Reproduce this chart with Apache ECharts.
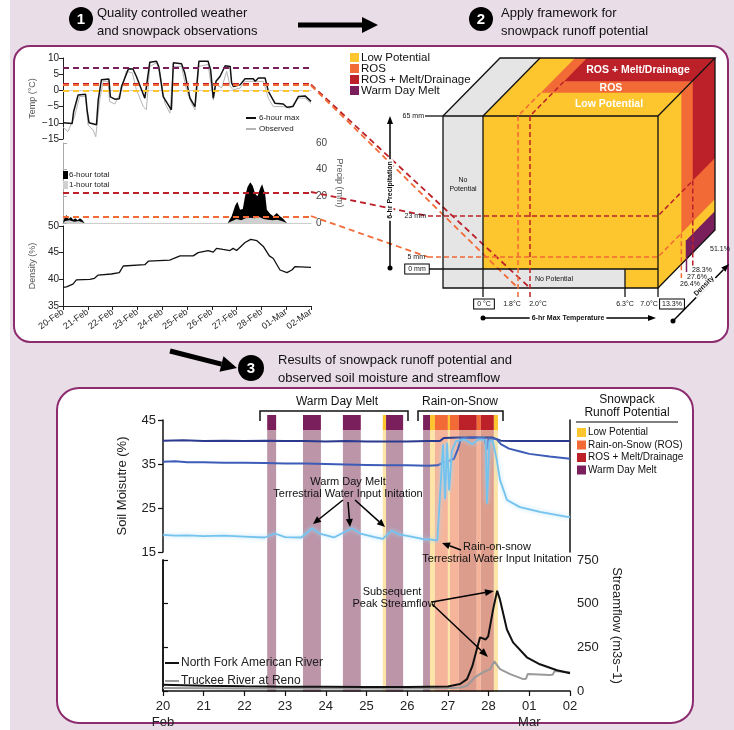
<!DOCTYPE html>
<html><head><meta charset="utf-8">
<script src="https://cdn.jsdelivr.net/npm/echarts/dist/echarts.min.js"></script>
<style>html,body{margin:0;padding:0;background:#fff}#c{width:734px;height:730px}</style>
</head><body><div id="c"></div><script>
// ---------- DATA ----------
const topDayLabels = ['20-Feb','21-Feb','22-Feb','23-Feb','24-Feb','25-Feb','26-Feb','27-Feb','28-Feb','01-Mar','02-Mar'];
const bottomDayLabels = ['20','21','22','23','24','25','26','27','28','01','02'];
const bottomMonthLabels = ['Feb','','','','','','','','','Mar',''];

const temp6hMax = [[0,-10],[0.37,-10.2],[0.43,-6.5],[0.61,-1.4],[0.91,-1.2],[0.97,-6],[1.05,-10],[1.35,-10.6],[1.42,-3],[1.55,3.3],[1.85,3.5],[1.91,-2],[2.09,-2.7],[2.27,-2.6],[2.36,1.2],[2.64,6.7],[2.82,6.6],[2.96,4.3],[3.3,-2.4],[3.36,-2.9],[3.5,8.7],[3.77,9],[3.86,7.4],[4.04,-1.9],[4.37,-6],[4.45,8.5],[4.78,8.2],[4.91,5.4],[5.12,-2.4],[5.32,-5],[5.48,9],[5.85,9],[5.95,6.4],[6.06,-2.4],[6.17,2.8],[6.33,4.3],[6.54,7.6],[6.74,7.4],[6.8,2.3],[6.87,1.2],[7.14,1.7],[7.34,3.6],[7.67,3.6],[7.75,2.8],[7.88,3.8],[8.15,3.8],[8.28,-0.3],[8.55,-4],[8.88,-4.2],[9.03,-5.2],[9.27,-5],[9.49,-1.9],[9.76,-1.7],[10,-3.4]];
const tempObserved = [[0,-11.4],[0.2,-12.7],[0.47,-8],[0.67,-1.9],[0.91,-1.9],[1.01,-10.7],[1.21,-12.2],[1.32,-14.3],[1.48,-3],[1.62,2.8],[1.82,2.8],[1.88,-3.4],[2.09,-4.2],[2.36,0],[2.55,5.9],[2.8,5.4],[2.96,0.2],[3.24,-5],[3.36,-6],[3.5,7.4],[3.77,8.5],[3.91,5.4],[4.11,-4],[4.31,-7],[4.45,7.4],[4.78,7.4],[4.98,0.2],[5.18,-4],[5.32,-6],[5.48,7.4],[5.85,8],[6.06,-3],[6.17,1.8],[6.4,0.8],[6.6,5.9],[6.74,1.2],[6.87,0.2],[7.14,0.7],[7.34,2.8],[7.67,2.8],[8.08,2.8],[8.28,-2.4],[8.48,-5],[8.89,-5],[9.15,-5.5],[9.49,-2.4],[9.76,-2.4],[10,-4]];
const tempThresholds = [7.0, 2.0, 1.8, 0];

const precip6h = [[0,0],[0.06,4],[0.14,6],[0.23,3],[0.32,4.5],[0.41,2.5],[0.5,3.5],[0.59,2],[0.68,3.5],[0.77,2.5],[0.87,0],[6.64,0],[6.8,5],[6.94,13],[7.03,16],[7.14,10],[7.25,10.5],[7.34,20],[7.44,27],[7.55,30.5],[7.65,28],[7.75,22],[7.84,20],[7.95,26],[8.03,29],[8.15,22],[8.22,10],[8.35,7],[8.48,5],[8.62,7.5],[8.75,5],[8.89,3],[9.03,0],[10,0]];
const precip1h = [[0,0],[0.09,1.5],[0.27,2],[0.45,1],[0.64,1.5],[0.86,0],[6.64,0],[6.82,1.5],[7.0,3],[7.18,2],[7.36,3.5],[7.55,4],[7.73,3.5],[7.91,4.5],[8.09,3],[8.27,2.5],[8.45,2],[8.64,2.5],[8.82,1.5],[9.03,0],[10,0]];
const precipThresholds = [23, 5];

const density = [[0,38.5],[0.14,38.6],[0.4,39.1],[0.54,39.9],[1.08,40],[1.27,40.2],[1.42,40.8],[1.95,41],[2.27,41.25],[2.43,42.5],[3.3,42.75],[3.44,43.4],[4.31,43.6],[4.45,43.9],[4.72,44.4],[5.25,44.4],[5.45,45],[5.85,45.4],[6.06,45.1],[6.19,45.8],[6.45,45.6],[6.73,45.4],[6.86,45.8],[7.0,45.4],[7.14,46],[7.34,46.9],[7.57,47.5],[7.82,47.25],[8.09,46.1],[8.32,44.4],[8.48,43.9],[8.75,41.75],[9.03,41.25],[9.23,41.75],[9.36,42.4],[10,42.25]];

const soilDeep = [[0,40.3],[0.5,40.4],[1,40.2],[1.5,40.3],[2,40.2],[2.5,40.3],[3,40.2],[3.5,40.2],[4,40.1],[4.5,40.2],[5,40.1],[5.5,40.1],[6,40.1],[6.5,40.2],[6.8,40.2],[6.9,40.9],[7.3,41.0],[7.7,41.0],[8.1,41.0],[8.3,40.3],[8.6,40.2],[9,40.2],[9.5,40.2],[10,40.2]];
const soilMid = [[0,35.5],[0.3,35.6],[0.6,35.4],[1,35.4],[1.5,35.3],[2,35.3],[2.5,35.2],[3,35.1],[3.5,35.1],[4,35.0],[4.5,34.9],[5,34.8],[5.5,34.7],[6,34.7],[6.5,34.6],[6.75,34.7],[6.85,35.2],[7.0,35.6],[7.15,36.2],[7.25,38.5],[7.32,40.8],[7.6,41.0],[7.9,40.9],[7.96,38.3],[8.0,40.9],[8.2,40.6],[8.3,39.5],[8.5,38.5],[8.8,37.8],[9.0,37.3],[9.5,36.7],[10,36.2]];
const soilShallow = [[0,18.9],[0.3,18.7],[0.6,18.8],[1,18.6],[1.5,18.7],[2,18.5],[2.5,18.3],[2.75,19.2],[3.0,18.4],[3.4,18.3],[3.66,20.4],[3.85,19.2],[4.2,18.3],[4.64,20.4],[4.85,19.2],[5.2,18.4],[5.4,18.0],[5.62,19.9],[5.8,19.0],[6.1,18.5],[6.4,17.9],[6.6,17.8],[6.74,17.6],[6.82,30],[6.88,39.5],[6.93,27],[6.98,39.8],[7.03,29],[7.1,38],[7.2,40.2],[7.4,40.6],[7.6,39.5],[7.75,40.6],[7.93,40.5],[7.96,26],[8.02,40.2],[8.1,40.3],[8.2,36],[8.28,31.4],[8.45,26.8],[8.77,25.2],[9.26,24.1],[9.93,23.0],[10,23.0]];

const flowNorthFork = [[0,36],[1,30],[2,27],[3,25],[4,24],[5,23],[6,23],[7,26],[7.3,40],[7.47,68],[7.6,142],[7.71,239],[7.79,307],[7.83,313],[7.93,295],[7.99,313],[8.11,466],[8.21,574],[8.28,523],[8.45,352],[8.6,278],[8.94,193],[9.26,153],[9.68,119],[10,102]];
const flowTruckee = [[0,17],[1,16],[2,15],[3,15],[4,15],[5,15],[6,15],[7,16],[7.3,20],[7.47,30],[7.67,80],[7.87,108],[8.04,125],[8.14,170],[8.28,125],[8.53,97],[8.85,68],[8.92,70],[8.96,97],[9.5,91],[9.58,95],[9.62,114],[10,108]];

// runoff potential bands (days after 20 Feb); class 0 Low, 1 ROS, 2 ROS+Melt, 3 Warm Day Melt
const bandStart = [2.56,3.44,4.42,5.40,5.48,6.39,6.56,6.68,7.00,7.05,7.27,7.71,7.81,8.13];
const bandEnd   = [2.78,3.88,4.86,5.48,5.90,6.56,6.68,7.00,7.05,7.27,7.71,7.81,8.13,8.23];
const bandClass = [3,3,3,0,3,3,0,1,0,1,2,1,2,0];
const potentialNames = ['Low Potential','Rain-on-Snow (ROS)','ROS + Melt/Drainage','Warm Day Melt'];

// ---------- STYLE ----------
const FF = '"Liberation Sans", Arial, sans-serif';
const C_LP='#fdc52e', C_ROS='#f26a36', C_RMD='#bc2029', C_WDM='#7a1f5c';
const capColors = [C_LP, C_ROS, C_RMD, C_WDM];
const shadeColors = ['#fde5a8','#f6b59b','#dc9d8d','#bc95a8'];
const threshColors = [C_WDM, C_RMD, C_ROS, C_LP];
const LAV='#e9dde7', BORDER='#8c2c6f';
const fnt=(s,w)=>(w||'normal')+' '+s+'px '+FF;

const G=[];
function T(x,y,text,size,o){G.push(Object.assign({type:'text',x:x,y:y,z:30,style:Object.assign({text:text,font:fnt(size,o&&o.bold?'bold':'normal'),fill:'#111',align:'left',verticalAlign:'middle'},o&&o.style||{})},o&&o.el||{}));}
function L(pts,color,w,dash,z){G.push({type:'polyline',z:z||25,shape:{points:pts},style:{stroke:color,lineWidth:w,lineDash:dash||null,fill:null}});}
function PG(pts,fill,z){G.push({type:'polygon',z:z||20,shape:{points:pts},style:{fill:fill}});}
function R(x,y,w,h,fill,z){G.push({type:'rect',z:z||20,shape:{x:x,y:y,width:w,height:h},style:{fill:fill}});}
function ARROW(x1,y1,x2,y2,w,hl,hw,z){const dx=x2-x1,dy=y2-y1,len=Math.hypot(dx,dy),ux=dx/len,uy=dy/len;const bx=x2-ux*hl,by=y2-uy*hl;
  L([[x1,y1],[bx,by]],'#000',w,null,z||30);PG([[x2,y2],[bx-uy*hw,by+ux*hw],[bx+uy*hw,by-ux*hw]],'#000',z||30);}
function CIRC(cx,cy,r,fill,z){G.push({type:'circle',z:z||30,shape:{cx:cx,cy:cy,r:r},style:{fill:fill}});}

// background and panels
G.push({type:'rect',z:-20,shape:{x:10,y:0,width:724,height:730},style:{fill:LAV}});
G.push({type:'rect',z:-19,shape:{x:14,y:46,width:714,height:296,r:16},style:{fill:'#fff',stroke:BORDER,lineWidth:2}});
G.push({type:'rect',z:-19,shape:{x:57,y:388,width:636,height:335,r:22},style:{fill:'#fff',stroke:BORDER,lineWidth:2}});

// headers
CIRC(81,19,12,'#000'); T(81,20,'1',15,{bold:1,style:{fill:'#fff',align:'center'}});
T(97,13,'Quality controlled weather',13); T(97,31,'and snowpack observations',13);
ARROW(298,25,378,25,5,16,8);
CIRC(481,19,12,'#000'); T(481,20,'2',15,{bold:1,style:{fill:'#fff',align:'center'}});
T(501,13,'Apply framework for',13); T(501,31,'snowpack runoff potential',13);
ARROW(170,351,237,368,5,16,8);
CIRC(251,368,13,'#000'); T(251,369,'3',15,{bold:1,style:{fill:'#fff',align:'center'}});
T(278,360,'Results of snowpack runoff potential and',13); T(278,378,'observed soil moisture and streamflow',13);

// cube legend
[C_LP,C_ROS,C_RMD,C_WDM].forEach((c,i)=>{R(350,53+i*11,9,9,c,30);});
['Low Potential','ROS','ROS + Melt/Drainage','Warm Day Melt'].forEach((t,i)=>T(361,57.5+i*11,t,11.5));

// ---------- CUBE (schematic) ----------
const FX0=443,FX1=483,FX2=625,FX3=658,TY=116,Y23=216,Y5=257,Y0=269,BY=288,DX=57,DY=58,X18=518,X20=530;
const P=(f,y)=>[FX3+DX*f,y-DY*f];
const Q=(f,x)=>[x+DX*f,TY-DY*f];
PG([Q(0,FX0),Q(0,FX1),Q(1,FX1),Q(1,FX0)],'#e5e5e5');
PG([Q(0,FX1),Q(0,FX3),Q(1,FX3),Q(1,FX1)],C_LP);
PG([Q(.4,X18),Q(.4,FX3),Q(1,FX3),Q(1,X18)],C_ROS);
PG([Q(.6,X20),Q(.6,FX3),Q(1,FX3),Q(1,X20)],C_RMD);
PG([P(0,TY),P(1,TY),P(1,BY),P(0,BY)],C_LP);
PG([P(.41,TY),P(1,TY),P(1,Y5),P(.41,Y5)],C_ROS);
PG([P(.61,TY),P(1,TY),P(1,Y23),P(.61,Y23)],C_RMD);
PG([P(.5,Y0),P(1,Y0),P(1,BY),P(.5,BY)],C_WDM);
R(FX0,TY,FX1-FX0,BY-TY,'#e5e5e5'); R(FX1,TY,FX3-FX1,Y0-TY,C_LP);
R(FX1,Y0,FX2-FX1,BY-Y0,'#e5e5e5'); R(FX2,Y0,FX3-FX2,BY-Y0,C_LP);
// outlines
L([[FX0,TY],[FX3,TY],[FX3,BY],[FX0,BY],[FX0,TY]],'#111',1.3,null,24);
L([[FX1,TY],[FX1,BY]],'#111',1.3,null,24);
L([[428,Y0],[FX3,Y0]],'#111',1.3,null,24);
L([[FX2,Y0],[FX2,297]],'#111',1.3,null,24);
L([[FX1,BY],[FX1,297]],'#111',1.3,null,24);
L([[FX3,BY],[FX3,297]],'#111',1.3,null,24);
L([Q(0,FX0),Q(1,FX0),Q(1,FX3),Q(0,FX3)],'#111',1.3,null,24);
L([Q(0,FX1),Q(1,FX1)],'#111',1.3,null,24);
L([P(1,TY),P(1,BY),P(0,BY)],'#111',1.3,null,24);
L([[425,TY],[FX0,TY]],'#111',1.3,null,24);
// dashed thresholds in cube
L([[428,Y23],[FX3,Y23],P(.61,Y23)],C_RMD,1.5,[5,3]);
L([[428,Y5],[FX3,Y5],P(.41,Y5)],C_ROS,1.5,[5,3]);
L([[X18,297],[X18,TY],Q(.4,X18)],C_ROS,1.5,[5,3]);
L([[X20,297],[X20,TY],Q(.6,X20)],C_RMD,1.5,[5,3]);
L([P(.41,Y5),[P(.41,0)[0],278]],C_ROS,1.5,[5,3]);
L([P(.5,Y0),[P(.5,0)[0],272]],C_WDM,1.5);
L([P(.61,Y23),[P(.61,0)[0],266]],C_RMD,1.5,[5,3]);
// connectors from panel 1 charts
L([[311,84.5],[X20,288]],C_RMD,1.8,[6,4],22);
L([[311,85.5],[X18,288]],C_ROS,1.8,[6,4],22);
L([[311,192],[428,Y23]],C_RMD,1.8,[6,4],22);
L([[311,216],[428,Y5]],C_ROS,1.8,[6,4],22);
// cube texts
T(424,TY,'65 mm',7,{style:{align:'right'}});
T(426,Y23,'23 mm',7,{style:{align:'right'}});
T(425,Y5,'5 mm',7,{style:{align:'right'}});
T(417,269,'0 mm',7,{style:{align:'center',backgroundColor:'#fff',borderColor:'#000',borderWidth:1,padding:[1,3]}});
T(484,304,'0 °C',7,{style:{align:'center',backgroundColor:'#fff',borderColor:'#000',borderWidth:1,padding:[1,3]}});
T(512,304,'1.8°C',7,{style:{align:'center'}});
T(538,304,'2.0°C',7,{style:{align:'center'}});
T(625,304,'6.3°C',7,{style:{align:'center'}});
T(649,304,'7.0°C',7,{style:{align:'center'}});
T(672,304,'13.3%',7,{style:{align:'center',backgroundColor:'#fff',borderColor:'#000',borderWidth:1,padding:[1,2]}});
T(720,249,'51.1%',7,{style:{align:'center'}});
T(702,270,'28.3%',7,{style:{align:'center'}});
T(697,277,'27.6%',7,{style:{align:'center'}});
T(690,284,'26.4%',7,{style:{align:'center'}});
T(463,185,'No\nPotential',7,{style:{align:'center',lineHeight:9}});
T(554,279,'No Potential',7,{style:{align:'center'}});
T(638,70,'ROS + Melt/Drainage',10.5,{bold:1,style:{fill:'#fff',align:'center'}});
T(611,88,'ROS',10.5,{bold:1,style:{fill:'#fff',align:'center'}});
T(609,104,'Low Potential',10.5,{bold:1,style:{fill:'#fff',align:'center'}});
// cube axes arrows
CIRC(390,268,2.5,'#000'); ARROW(390,268,390,116,1.5,8,3);
T(390,190,'6-hr Precipitation',7,{bold:1,el:{rotation:Math.PI/2},style:{align:'center',backgroundColor:'#fff',padding:[0,2]}});
CIRC(483,318,2.5,'#000'); ARROW(483,318,656,318,1.5,8,3);
T(568,318,'6-hr Max Temperature',7,{bold:1,style:{align:'center',backgroundColor:'#fff',padding:[0,2]}});
CIRC(673,321,2.5,'#000'); ARROW(673,321,729,264,1.5,8,3);
T(704,286,'Density',7,{bold:1,el:{rotation:Math.PI/4},style:{align:'center',backgroundColor:'#fff',padding:[0,1]}});

// ---------- PANEL 3 annotations ----------
L([[260,421],[260,411],[408,411],[408,421]],'#111',1.5,null,30);
T(337,402,'Warm Day Melt',12,{style:{align:'center'}});
L([[418,421],[418,411],[503,411],[503,421]],'#111',1.5,null,30);
T(460,402,'Rain-on-Snow',12,{style:{align:'center'}});
T(627,400,'Snowpack',12,{style:{align:'center'}});
T(627,413,'Runoff Potential',12,{style:{align:'center'}});
L([[576,422],[678,422]],'#555',1.5,null,30);
capColors.forEach((c,i)=>{R(577,428+i*12.5,9,9,c,30); T(588,432.5+i*12.5,potentialNames[i],10);});
T(348,482,'Warm Day Melt',11,{style:{align:'center'}});
T(348,494,'Terrestrial Water Input Initation',11,{style:{align:'center'}});
ARROW(343,500,313,524,1.5,8,3.5); ARROW(348,502,350,527,1.5,8,3.5); ARROW(355,500,385,527,1.5,8,3.5);
T(497,547,'Rain-on-snow',11,{style:{align:'center'}});
T(497,559,'Terrestrial Water Input Initation',11,{style:{align:'center'}});
ARROW(461,550,442,543,1.5,8,3.5);
T(392,592,'Subsequent',11,{style:{align:'center'}});
T(394,604,'Peak Streamflow',11,{style:{align:'center'}});
ARROW(432,602,494,591,1.5,9,3.5); ARROW(432,604,488,657,1.5,9,3.5);

// ---------- CHART ----------
const chart = echarts.init(document.getElementById('c'),null,{renderer:'canvas'});
const minus = v => String(v).replace('-','\u2212');
const axBase = {splitLine:{show:false}};
const opt = {
  animation:false,
  textStyle:{fontFamily:FF},
  grid:[
    {left:63,top:58,width:248,height:81},
    {left:63,top:143,width:248,height:80},
    {left:63,top:226,width:248,height:80},
    {left:163,top:420,width:407,height:132},
    {left:163,top:560,width:407,height:132},
    {left:163,top:415,width:407,height:277}
  ],
  xAxis:[
    Object.assign({gridIndex:0,type:'value',min:0,max:10,axisLabel:{show:false},axisTick:{show:false},axisLine:{lineStyle:{color:'#ccc'}}},axBase),
    Object.assign({gridIndex:1,type:'value',min:0,max:10,axisLabel:{show:false},axisTick:{show:false},axisLine:{lineStyle:{color:'#ccc'}}},axBase),
    Object.assign({gridIndex:2,type:'value',min:0,max:10,interval:1,axisLine:{lineStyle:{color:'#222'}},axisTick:{length:4,lineStyle:{color:'#222'}},
      axisLabel:{rotate:35,fontSize:9,color:'#222',margin:5,formatter:v=>topDayLabels[v]}},axBase),
    Object.assign({gridIndex:3,type:'value',min:0,max:10,show:false},axBase),
    Object.assign({gridIndex:4,type:'value',min:0,max:10,interval:1,z:6,axisLine:{lineStyle:{color:'#111',width:1.5}},axisTick:{length:5,lineStyle:{color:'#111',width:1.2}},
      axisLabel:{fontSize:13,color:'#222',margin:7,lineHeight:16,formatter:v=>bottomDayLabels[v]+(bottomMonthLabels[v]?'\n'+bottomMonthLabels[v]:'')}},axBase),
    Object.assign({gridIndex:5,type:'value',min:0,max:10,show:false},axBase)
  ],
  yAxis:[
    Object.assign({gridIndex:0,type:'value',min:-15,max:10,interval:5,axisLine:{show:true,lineStyle:{color:'#222'}},axisTick:{show:true,length:4},
      axisLabel:{fontSize:10,color:'#222',margin:4,formatter:minus},name:'Temp (°C)',nameLocation:'middle',nameGap:26,nameTextStyle:{fontSize:9,color:'#555'}},axBase),
    Object.assign({gridIndex:1,type:'value',position:'right',min:0,max:60,interval:20,axisLine:{show:true,lineStyle:{color:'#aaa'}},axisTick:{show:true,length:4},
      axisLabel:{fontSize:10,color:'#444',margin:5},name:'Precip (mm)',nameLocation:'middle',nameRotate:-90,nameGap:24,nameTextStyle:{fontSize:9,color:'#555'}},axBase),
    Object.assign({gridIndex:2,type:'value',min:35,max:50,interval:5,axisLine:{show:true,lineStyle:{color:'#222'}},axisTick:{show:true,length:4},
      axisLabel:{fontSize:10,color:'#222',margin:4},name:'Density (%)',nameLocation:'middle',nameGap:26,nameTextStyle:{fontSize:9,color:'#555'}},axBase),
    Object.assign({gridIndex:3,type:'value',min:15,max:45,interval:10,axisLine:{show:true,lineStyle:{color:'#111',width:1.5}},axisTick:{show:true,length:5,lineStyle:{width:1.2}},
      axisLabel:{fontSize:13,color:'#222',margin:7},name:'Soil Moisutre (%)',nameLocation:'middle',nameGap:34,nameTextStyle:{fontSize:13,color:'#222'}},axBase),
    Object.assign({gridIndex:3,type:'value',position:'right',min:15,max:45,axisLine:{show:true,lineStyle:{color:'#111',width:1.5}},axisTick:{show:false},axisLabel:{show:false}},axBase),
    Object.assign({gridIndex:4,type:'value',position:'right',min:0,max:750,interval:250,axisLine:{show:true,lineStyle:{color:'#111',width:1.5}},axisTick:{show:true,length:5,lineStyle:{width:1.2}},
      axisLabel:{fontSize:13,color:'#222',margin:7},name:'Streamflow (m3s\u22121)',nameLocation:'middle',nameRotate:-90,nameGap:40,nameTextStyle:{fontSize:13,color:'#222'}},axBase),
    Object.assign({gridIndex:4,type:'value',position:'left',min:0,max:750,axisLine:{show:true,lineStyle:{color:'#111',width:1.5}},axisTick:{show:false},axisLabel:{show:false}},axBase),
    Object.assign({gridIndex:5,type:'value',min:0,max:1,show:false},axBase)
  ],
  legend:[
    {data:['6-hour max','Observed'],left:246,top:114,orient:'vertical',icon:'rect',itemWidth:10,itemHeight:2,itemGap:3,padding:0,textStyle:{fontSize:8,color:'#222',padding:[0,0,0,-2]}},
    {data:['6-hour total','1-hour total'],left:63,top:171,orient:'vertical',icon:'rect',itemWidth:5,itemHeight:8,itemGap:2,padding:0,textStyle:{fontSize:8,color:'#222',padding:[0,0,0,-4]}},
    {data:['North Fork American River','Truckee River at Reno'],left:165,top:657,orient:'vertical',icon:'rect',itemWidth:14,itemHeight:2,itemGap:6,padding:0,textStyle:{fontSize:12,color:'#222',padding:[0,0,0,-3]}}
  ],
  graphic:{elements:G},
  series:[
    {name:'bands',type:'custom',xAxisIndex:5,yAxisIndex:7,z:1,
     data:bandStart.map((s,i)=>[s,bandEnd[i],bandClass[i],0.5]),encode:{x:[0,1],y:3},
     renderItem:function(params,api){
       const p0=api.coord([api.value(0),1]), p1=api.coord([api.value(1),0]); const t=api.value(2); const w=p1[0]-p0[0];
       return {type:'group',children:[
         {type:'rect',shape:{x:p0[0],y:p0[1],width:w,height:15},style:{fill:capColors[t]}},
         {type:'rect',shape:{x:p0[0],y:p0[1]+15,width:w,height:p1[1]-p0[1]-15},style:{fill:shadeColors[t]}}]};
     }},
    {name:'Observed',type:'line',xAxisIndex:0,yAxisIndex:0,data:tempObserved,symbol:'none',lineStyle:{color:'#b5b5b5',width:1},itemStyle:{color:'#b5b5b5'}},
    {name:'6-hour max',type:'line',xAxisIndex:0,yAxisIndex:0,data:temp6hMax,symbol:'none',lineStyle:{color:'#111',width:1.5},itemStyle:{color:'#111'},
     markLine:{silent:true,symbol:'none',label:{show:false},data:tempThresholds.map((v,i)=>({yAxis:v,lineStyle:{color:threshColors[i],type:[6,4],width:2}}))}},
    {name:'6-hour total',type:'line',xAxisIndex:1,yAxisIndex:1,data:precip6h,symbol:'none',lineStyle:{width:0},areaStyle:{color:'#000',opacity:1},itemStyle:{color:'#000'},
     markLine:{silent:true,symbol:'none',label:{show:false},data:[{yAxis:precipThresholds[0],lineStyle:{color:C_RMD,type:[6,4],width:2}},{yAxis:precipThresholds[1],lineStyle:{color:C_ROS,type:[6,4],width:2}}]}},
    {name:'1-hour total',type:'line',xAxisIndex:1,yAxisIndex:1,data:precip1h,symbol:'none',lineStyle:{width:0},areaStyle:{color:'#d0d0d0',opacity:1},itemStyle:{color:'#d0d0d0'}},
    {name:'density',type:'line',xAxisIndex:2,yAxisIndex:2,data:density,symbol:'none',lineStyle:{color:'#111',width:1.3}},
    {name:'soilDeep',type:'line',xAxisIndex:3,yAxisIndex:3,data:soilDeep,symbol:'none',z:4,lineStyle:{color:'#2b3a8e',width:2}},
    {name:'soilMid',type:'line',xAxisIndex:3,yAxisIndex:3,data:soilMid,symbol:'none',z:4,lineStyle:{color:'#3d5cb8',width:2}},
    {name:'soilShallow',type:'line',xAxisIndex:3,yAxisIndex:3,data:soilShallow,symbol:'none',z:5,lineStyle:{color:'#74c3ef',width:1.8,shadowColor:'rgba(170,220,248,0.95)',shadowBlur:4}},
    {name:'Truckee River at Reno',type:'line',xAxisIndex:4,yAxisIndex:5,data:flowTruckee,symbol:'none',z:4,lineStyle:{color:'#9a9a9a',width:2},itemStyle:{color:'#9a9a9a'}},
    {name:'North Fork American River',type:'line',xAxisIndex:4,yAxisIndex:5,data:flowNorthFork,symbol:'none',z:5,lineStyle:{color:'#111',width:2},itemStyle:{color:'#111'}}
  ]
};
chart.setOption(opt);
</script></body></html>
